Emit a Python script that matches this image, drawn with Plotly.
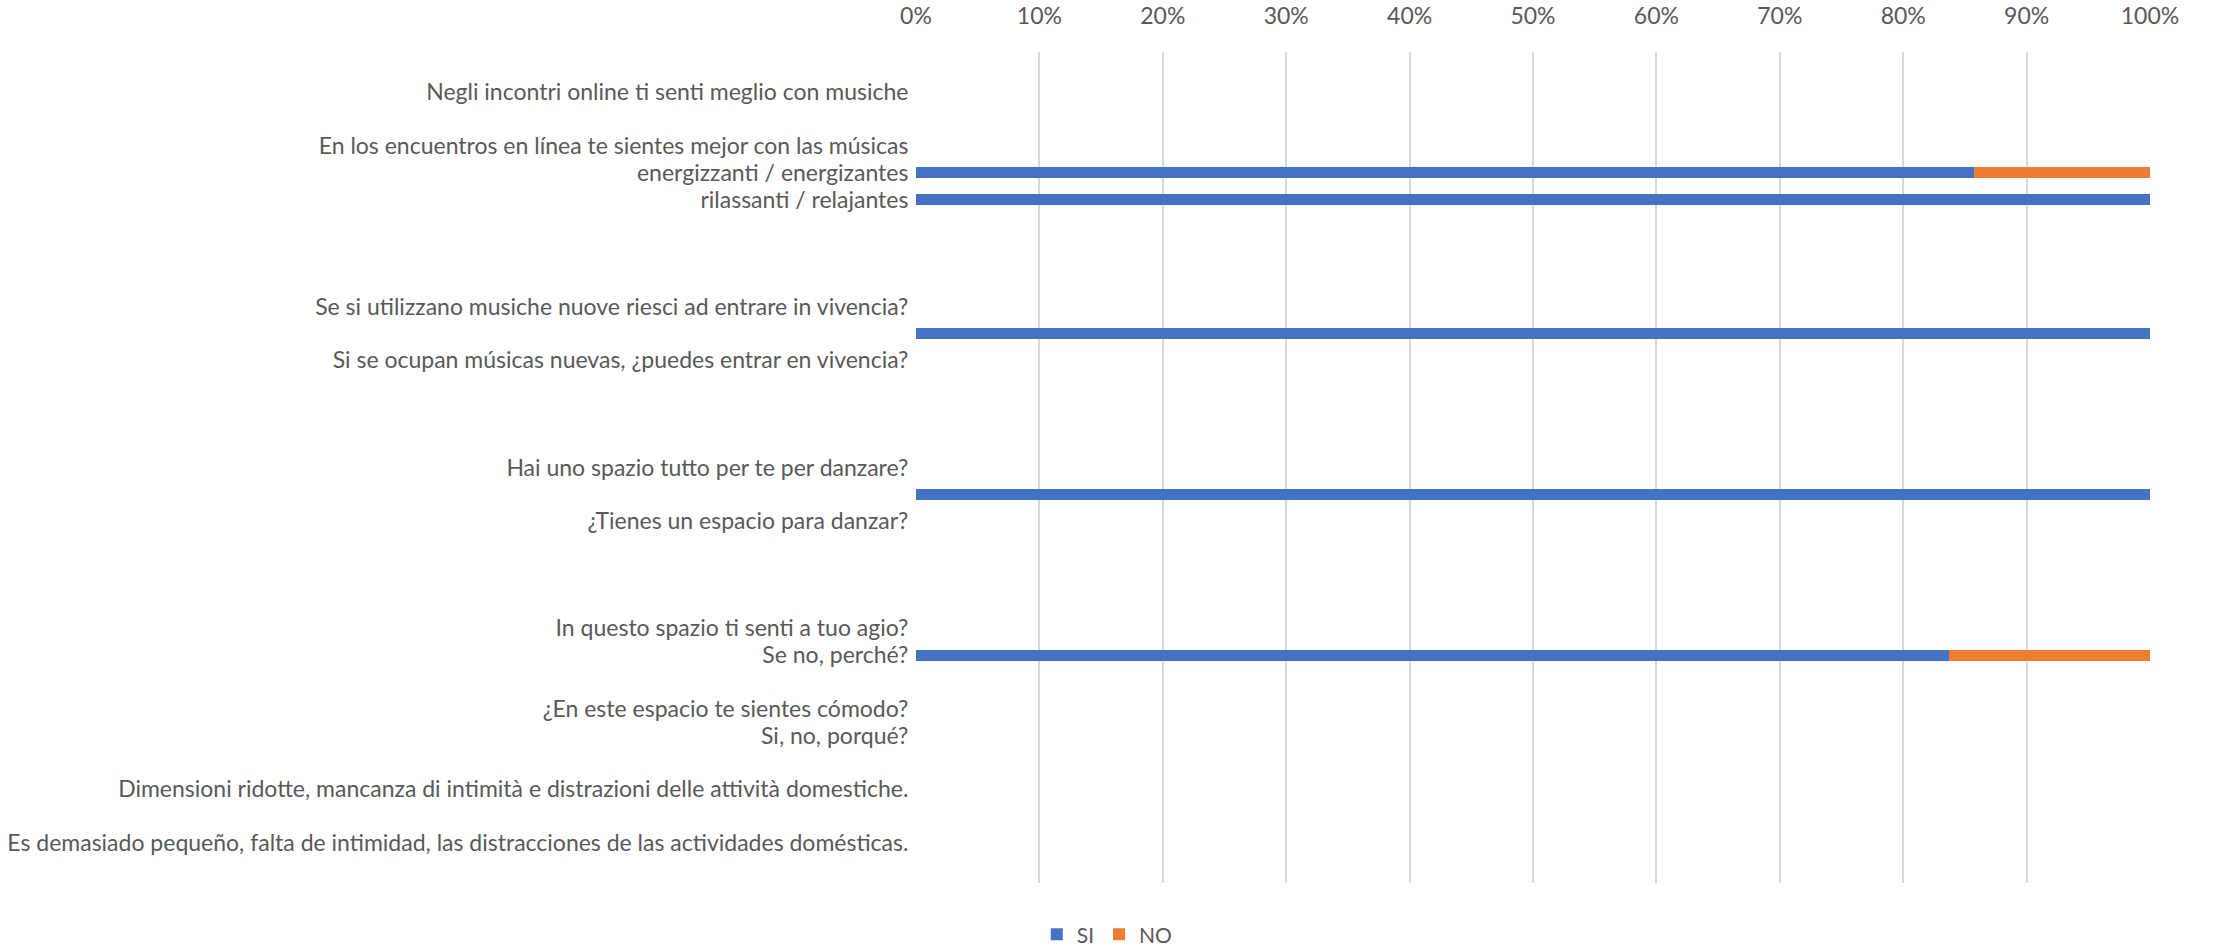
import plotly.graph_objects as go

# Category rows (top to bottom); blank strings are empty spacer rows of the original chart
row_labels = [
    "",
    "Negli incontri online ti senti meglio con musiche",
    "",
    "En los encuentros en línea te sientes mejor con las músicas",
    "energizzanti / energizantes",
    "rilassanti / relajantes",
    "",
    "",
    "",
    "Se si utilizzano musiche nuove riesci ad entrare in vivencia?",
    "",
    "Si se ocupan músicas nuevas, ¿puedes entrar en vivencia?",
    "",
    "",
    "",
    "Hai uno spazio tutto per te per danzare?",
    "",
    "¿Tienes un espacio para danzar?",
    "",
    "",
    "",
    "In questo spazio ti senti a tuo agio?",
    "Se no, perché?",
    "",
    "¿En este espacio te sientes cómodo?",
    "Si, no, porqué?",
    "",
    "Dimensioni ridotte, mancanza di intimità e distrazioni delle attività domestiche.",
    "",
    "Es demasiado pequeño, falta de intimidad, las distracciones de las actividades domésticas.",
    "",
]

# Percent values per row (None = no bar)
si_values = [None, None, None, None, 85.7, 100, None, None, None, None, 100, None, None, None, None,
             None, 100, None, None, None, None, None, 83.7, None, None, None, None, None, None, None, None]
no_values = [None, None, None, None, 14.3, 0, None, None, None, None, 0, None, None, None, None,
             None, 0, None, None, None, None, None, 16.3, None, None, None, None, None, None, None, None]

x_ticks = [0, 10, 20, 30, 40, 50, 60, 70, 80, 90, 100]
x_tick_labels = ["0%", "10%", "20%", "30%", "40%", "50%", "60%", "70%", "80%", "90%", "100%"]

rows = list(range(len(row_labels)))

FONT = "Lato"
GRAY = "#595959"
FS = 23

fig = go.Figure()
fig.add_trace(go.Bar(name="SI", y=rows, x=si_values, orientation="h",
                     marker=dict(color="#4472C4", line=dict(width=0)), width=0.4))
fig.add_trace(go.Bar(name="NO", y=rows, x=no_values, orientation="h",
                     marker=dict(color="#ED7D31", line=dict(width=0)), width=0.4))

fig.update_layout(
    width=2221, height=946,
    barmode="stack",
    paper_bgcolor="white", plot_bgcolor="white",
    margin=dict(l=916, r=71, t=52, b=63, pad=0),
    font=dict(family=FONT, color=GRAY, size=FS),
    showlegend=True,
    legend=dict(orientation="h", x=0.155, xanchor="center",
                yref="container", y=0.012, yanchor="middle",
                font=dict(size=21, color=GRAY, family=FONT), traceorder="normal",
                itemwidth=30, bgcolor="rgba(0,0,0,0)"),
    bargap=0,
)
fig.update_xaxes(
    side="top", range=[0, 100], tickvals=x_ticks, ticktext=x_tick_labels,
    showgrid=True, gridcolor="#D9D9D9", gridwidth=1.5,
    zeroline=False, showline=False, automargin=False,
    ticks="outside", ticklen=18, tickcolor="rgba(0,0,0,0)",
    tickfont=dict(size=FS, color=GRAY, family=FONT),
)
fig.update_yaxes(
    range=[len(row_labels) - 0.5, -0.5], tickvals=rows, ticktext=row_labels,
    showgrid=False, zeroline=False, showline=False, automargin=False,
    ticks="outside", ticklen=2, tickcolor="rgba(0,0,0,0)",
    tickfont=dict(size=FS, color=GRAY, family=FONT),
)

fig.write_html("out.html",
               config={"displayModeBar": False},
               post_script="document.body.style.margin='0';document.body.style.overflow='hidden';")
